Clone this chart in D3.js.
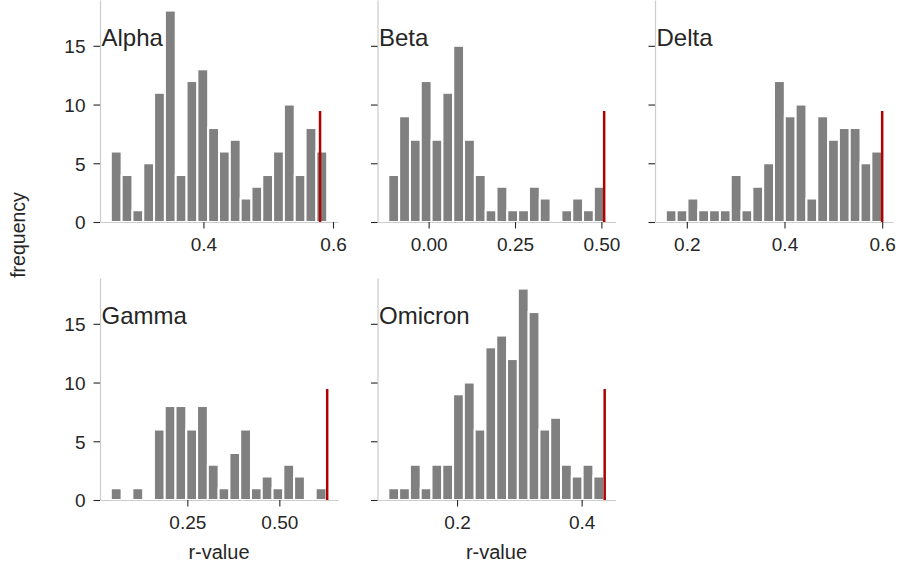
<!DOCTYPE html>
<html>
<head>
<meta charset="utf-8">
<script src="https://cdn.jsdelivr.net/npm/d3@7"></script>
<style>
  body { margin: 0; background: #fff; }
  svg { display: block; font-family: "Liberation Sans", Arial, sans-serif; }
  .axis .domain { stroke: #cccccc; stroke-width: 1.2; }
  .axis .tick line { stroke: #262626; stroke-width: 1.1; }
</style>
</head>
<body>
<div id="chart"></div>
<script>
// panel names, in drawing order (3 per row)
var panelNames = ["Alpha", "Beta", "Delta", "Gamma", "Omicron"];

// histogram counts (20 bins each)
var alphaCounts   = [6, 4, 1, 5, 11, 18, 4, 12, 13, 8, 6, 7, 2, 3, 4, 6, 10, 4, 8, 6];
var betaCounts    = [4, 9, 7, 12, 7, 11, 15, 7, 4, 1, 3, 1, 1, 3, 2, 0, 1, 2, 1, 3];
var deltaCounts   = [1, 1, 2, 1, 1, 1, 4, 1, 3, 5, 12, 9, 10, 2, 9, 7, 8, 8, 5, 6];
var gammaCounts   = [1, 0, 1, 0, 6, 8, 8, 6, 8, 3, 1, 4, 6, 1, 2, 1, 3, 2, 0, 1];
var omicronCounts = [1, 1, 3, 1, 3, 3, 9, 10, 6, 13, 14, 12, 18, 16, 6, 7, 3, 2, 3, 2];
var allCounts = [alphaCounts, betaCounts, deltaCounts, gammaCounts, omicronCounts];

// range of the bins (first left edge, last right edge)
var binStarts = [0.257, -0.1167, 0.157, 0.042, 0.0897];
var binEnds   = [0.591, 0.5095, 0.600, 0.628, 0.4362];

// observed r-value (red line)
var observed = [0.580, 0.508, 0.600, 0.630, 0.437];

// x tick values and labels
var xTickValues = [[0.4, 0.6], [0.0, 0.25, 0.5], [0.2, 0.4, 0.6], [0.25, 0.5], [0.2, 0.4]];
var xTickFormats = [".1f", ".2f", ".1f", ".2f", ".1f"];
var yTickValues = [0, 5, 10, 15];

var width = 898, height = 568;
var pw = 238, ph = 222;
var lefts = [100, 377.5, 655];
var tops = [0, 278];
var fontFam = '"Liberation Sans", Arial, sans-serif';

var svg = d3.select("#chart").append("svg")
    .attr("width", width)
    .attr("height", height);

var yMax = d3.max(allCounts, function(c) { return d3.max(c); }) * 1.05;
var yScale = d3.scaleLinear().domain([0, yMax]).range([ph, 0]);

function styleTicks(sel) {
  sel.attr("font-family", fontFam).attr("font-size", 19);
  sel.selectAll("text").attr("fill", "#262626");
}

panelNames.forEach(function(name, i) {
  var row = Math.floor(i / 3), col = i % 3;
  var counts = allCounts[i];
  var lo = Math.min(binStarts[i], observed[i]);
  var hi = Math.max(binEnds[i], observed[i]);
  var pad = (hi - lo) * 0.05;
  var xScale = d3.scaleLinear().domain([lo - pad, hi + pad]).range([0, pw]);
  var bw = (binEnds[i] - binStarts[i]) / counts.length;

  var g = svg.append("g")
      .attr("transform", "translate(" + lefts[col] + "," + tops[row] + ")");

  var bins = counts.map(function(c, k) {
    return {x0: binStarts[i] + k * bw, x1: binStarts[i] + (k + 1) * bw, n: c};
  }).filter(function(d) { return d.n > 0; });

  g.selectAll("rect.bar").data(bins).enter().append("rect")
      .attr("class", "bar")
      .attr("x", function(d) { return xScale(d.x0); })
      .attr("width", function(d) { return xScale(d.x1) - xScale(d.x0); })
      .attr("y", function(d) { return yScale(d.n); })
      .attr("height", function(d) { return yScale(0) - yScale(d.n); })
      .attr("fill", "#808080")
      .attr("stroke", "#ffffff")
      .attr("stroke-width", 2);

  // observed value, up to half of the axes height
  g.append("line")
      .attr("x1", xScale(observed[i])).attr("x2", xScale(observed[i]))
      .attr("y1", ph).attr("y2", ph / 2)
      .attr("stroke", "#b00000")
      .attr("stroke-width", 2.5);

  var yAxis = d3.axisLeft(yScale).tickValues(yTickValues)
      .tickSize(6.5).tickSizeOuter(0).tickPadding(8);
  if (col > 0) yAxis.tickFormat("");
  var ya = g.append("g").attr("class", "axis").call(yAxis).call(styleTicks);
  ya.selectAll("text").attr("dy", "0.36em");

  var xAxis = d3.axisBottom(xScale).tickValues(xTickValues[i])
      .tickFormat(d3.format(xTickFormats[i]))
      .tickSize(6.5).tickSizeOuter(0).tickPadding(9.5);
  g.append("g").attr("class", "axis")
      .attr("transform", "translate(0," + ph + ")")
      .call(xAxis).call(styleTicks);

  g.append("text")
      .attr("x", 1.5)
      .attr("y", 45.5)
      .attr("fill", "#262626")
      .style("font-size", "24px")
      .text(name);

  if (row == 1) {
    g.append("text")
        .attr("x", pw / 2)
        .attr("y", ph + 59)
        .attr("text-anchor", "middle")
        .attr("fill", "#262626")
        .style("font-size", "20px")
        .text("r-value");
  }
});

svg.append("text")
    .attr("transform", "translate(25,235) rotate(-90)")
    .attr("text-anchor", "middle")
    .attr("fill", "#262626")
    .style("font-size", "19.5px")
    .text("frequency");
</script>
</body>
</html>
